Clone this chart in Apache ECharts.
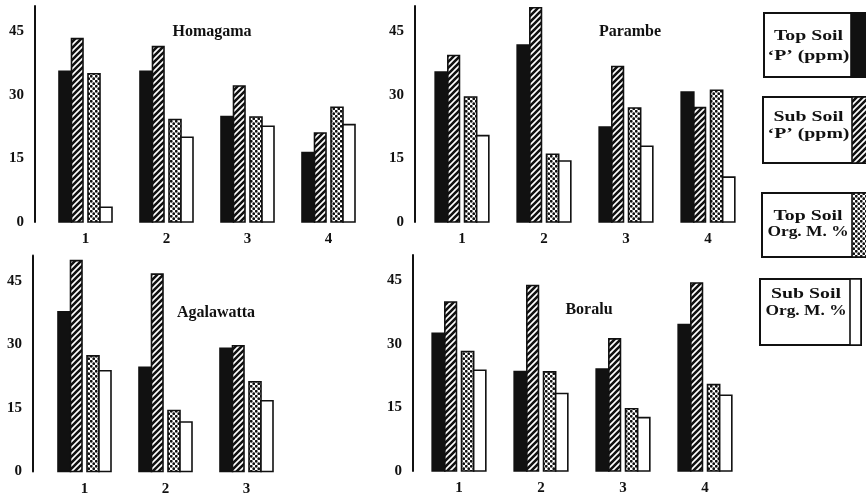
<!DOCTYPE html>
<html><head><meta charset="utf-8">
<script src="https://cdn.jsdelivr.net/npm/echarts@6/dist/echarts.min.js"></script>
<style>html,body{margin:0;padding:0;background:#fff}#c{width:866px;height:501px}</style>
</head><body><div id="c"></div>
<script>
// ---- data ----
const seriesNames = ["Top Soil 'P' (ppm)", "Sub Soil 'P' (ppm)", "Top Soil Org. M. %", "Sub Soil Org. M. %"];
const sites = ['Homagama', 'Parambe', 'Agalawatta', 'Boralu'];
const yTicks = [0, 15, 30, 45];

const homagamaCats = ['1', '2', '3', '4'];
const homagamaTopP  = [35.6, 35.6, 24.9, 16.4];
const homagamaSubP  = [43.3, 41.4, 32.1, 21.0];
const homagamaTopOM = [35.0, 24.2, 24.8, 27.1];
const homagamaSubOM = [3.5, 20.0, 22.6, 23.0];

const parambeCats = ['1', '2', '3', '4'];
const parambeTopP  = [35.4, 41.8, 22.4, 30.7];
const parambeSubP  = [39.3, 50.6, 36.7, 27.0];
const parambeTopOM = [29.5, 16.0, 26.9, 31.1];
const parambeSubOM = [20.4, 14.4, 17.9, 10.6];

const agalawattaCats = ['1', '2', '3'];
const agalawattaTopP  = [37.7, 24.6, 29.1];
const agalawattaSubP  = [49.8, 46.6, 29.7];
const agalawattaTopOM = [27.3, 14.4, 21.2];
const agalawattaSubOM = [23.8, 11.7, 16.7];

const boraluCats = ['1', '2', '3', '4'];
const boraluTopP  = [32.5, 23.5, 24.1, 34.6];
const boraluSubP  = [39.9, 43.8, 31.2, 44.4];
const boraluTopOM = [28.2, 23.4, 14.7, 20.4];
const boraluSubOM = [23.8, 18.3, 12.6, 17.9];

const panels = [
  { cats: homagamaCats, vals: [homagamaTopP, homagamaSubP, homagamaTopOM, homagamaSubOM] },
  { cats: parambeCats, vals: [parambeTopP, parambeSubP, parambeTopOM, parambeSubOM] },
  { cats: agalawattaCats, vals: [agalawattaTopP, agalawattaSubP, agalawattaTopOM, agalawattaSubOM] },
  { cats: boraluCats, vals: [boraluTopP, boraluSubP, boraluTopOM, boraluSubOM] }
];

// ---- layout / styling ----
const INK = '#111';
const FONT = '"Liberation Serif", "Times New Roman", serif';
const layout = [
  { left: 45, top: 6, width: 324, height: 216, axisX: 35, title: [212, 32] },
  { left: 421, top: 6, width: 328, height: 216, axisX: 415, title: [630, 32] },
  { left: 44, top: 255.5, width: 243, height: 216, axisX: 33, title: [216, 313] },
  { left: 418, top: 255, width: 328, height: 216, axisX: 413, title: [589, 310] }
];

function hatchPattern() {
  const c = document.createElement('canvas'); c.width = 6; c.height = 6;
  const g = c.getContext('2d');
  g.fillStyle = '#fff'; g.fillRect(0, 0, 6, 6);
  g.strokeStyle = INK; g.lineWidth = 2.6;
  g.beginPath();
  g.moveTo(-1, 7); g.lineTo(7, -1);
  g.moveTo(-4, 4); g.lineTo(4, -4);
  g.moveTo(2, 10); g.lineTo(10, 2);
  g.stroke();
  return { image: c, repeat: 'repeat' };
}
function dotPattern() {
  const c = document.createElement('canvas'); c.width = 5; c.height = 5;
  const g = c.getContext('2d');
  g.fillStyle = '#fff'; g.fillRect(0, 0, 5, 5);
  g.fillStyle = INK;
  g.beginPath(); g.arc(1.25, 1.25, 1.4, 0, Math.PI * 2); g.fill();
  g.beginPath(); g.arc(3.75, 3.75, 1.4, 0, Math.PI * 2); g.fill();
  return { image: c, repeat: 'repeat' };
}
const fills = [INK, hatchPattern(), dotPattern(), '#fff'];
const offs = [[-26.5, -14], [-14, -2.5], [2.5, 14.5], [14.5, 26.5]];

function makeRender(k) {
  return function (params, api) {
    const c = api.value(0), v = api.value(1);
    const base = api.coord([c, 0]);
    const top = api.coord([c, v]);
    const u = api.size([1, 0])[0] / 81;
    return {
      type: 'rect',
      shape: { x: base[0] + offs[k][0] * u, y: top[1], width: (offs[k][1] - offs[k][0]) * u, height: base[1] - top[1] },
      style: { fill: fills[k], stroke: INK, lineWidth: 1.6 }
    };
  };
}

const grid = [], xAxis = [], yAxis = [], series = [], graphic = [];
panels.forEach((p, i) => {
  const L = layout[i];
  grid.push({ left: L.left, top: L.top, width: L.width, height: L.height });
  xAxis.push({
    gridIndex: i, type: 'category', data: p.cats,
    axisLine: { show: false }, axisTick: { show: false },
    axisLabel: { margin: 10, color: INK, fontFamily: FONT, fontWeight: 'bold', fontSize: 15 }
  });
  yAxis.push({
    gridIndex: i, type: 'value', min: 0, max: 51, interval: 15,
    offset: L.left - L.axisX,
    axisLine: { show: true, lineStyle: { color: INK, width: 2 } },
    axisTick: { show: false }, splitLine: { show: false },
    axisLabel: {
      margin: 11, color: INK, fontFamily: FONT, fontWeight: 'bold', fontSize: 15,
      showMaxLabel: false,
      formatter: v => (yTicks.indexOf(v) >= 0 ? String(v) : '')
    }
  });
  p.vals.forEach((arr, k) => {
    series.push({
      type: 'custom', name: seriesNames[k], coordinateSystem: 'cartesian2d',
      xAxisIndex: i, yAxisIndex: i,
      encode: { x: 0, y: 1 },
      renderItem: makeRender(k),
      data: arr.map((v, j) => [j, v])
    });
  });
  graphic.push({
    type: 'text', x: L.title[0], y: L.title[1],
    style: { text: sites[i], fill: INK, font: 'bold 16px ' + FONT, align: 'center', verticalAlign: 'middle' }
  });
});

// legend boxes
const legendBoxes = [
  { x: 764, y: 13, w: 104, h: 64, sw: 851, ty: [36, 56], lines: ['Top Soil', '‘P’ (ppm)'] },
  { x: 763, y: 97, w: 105, h: 66, sw: 852, ty: [117, 134], lines: ['Sub Soil', '‘P’ (ppm)'] },
  { x: 762, y: 193, w: 106, h: 64, sw: 852, ty: [216, 232], lines: ['Top Soil', 'Org. M. %'] },
  { x: 760, y: 279, w: 101, h: 66, sw: 850, ty: [294, 311], lines: ['Sub Soil', 'Org. M. %'] }
];
legendBoxes.forEach((b, k) => {
  graphic.push({
    type: 'rect', shape: { x: b.x, y: b.y, width: b.w, height: b.h },
    style: { fill: '#fff', stroke: INK, lineWidth: 2 }
  });
  graphic.push({
    type: 'rect', shape: { x: b.sw, y: b.y, width: b.x + b.w - b.sw, height: b.h },
    style: { fill: fills[k], stroke: INK, lineWidth: 1.6 }
  });
  const cx = (b.x + b.sw) / 2 + 1;
  b.lines.forEach((t, j) => {
    graphic.push({
      type: 'text', x: cx, y: b.ty[j], scaleX: t.indexOf('Org') === 0 ? 1.16 : 1.32,
      style: { text: t, fill: INK, font: 'bold 15px ' + FONT, align: 'center', verticalAlign: 'middle' }
    });
  });
});

const chart = echarts.init(document.getElementById('c'), null, { renderer: 'canvas' });
chart.setOption({
  backgroundColor: '#fff',
  animation: false,
  grid, xAxis, yAxis, series, graphic
});
</script>
</body></html>
